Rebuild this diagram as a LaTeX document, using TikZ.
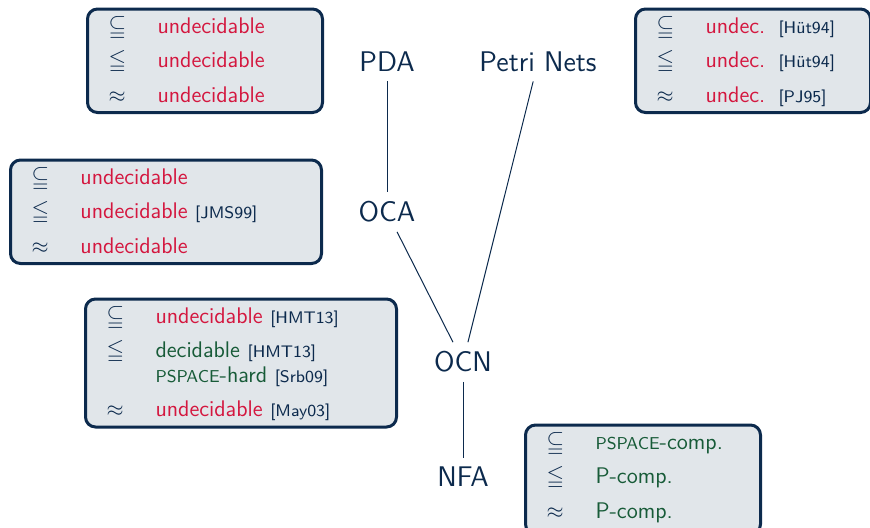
\documentclass[tikz,border=0pt]{standalone}
\usepackage{fontspec}
\usepackage{amssymb}
\usepackage{array}
\definecolor{navy}{HTML}{0C2A4D}
\definecolor{undecred}{HTML}{D4173F}
\definecolor{decgreen}{HTML}{175B38}
\definecolor{boxgray}{HTML}{E1E6EA}
\newcommand{\lit}[1]{{\fontsize{8.4}{10}\selectfont[#1]}}
\newcommand{\undec}[1]{\textcolor{undecred}{#1}}
\newcommand{\dec}[1]{\textcolor{decgreen}{#1}}
\newcommand{\pspace}{{\fontsize{8.6}{10}\selectfont PSPACE}}

\begin{document}
\begin{tikzpicture}[x=0.5pt,y=-0.5pt,
  model/.style={text=navy, inner sep=4.5pt, font=\sffamily\fontsize{14.2}{17}\selectfont},
  infobox/.style={draw=navy, line width=1.5pt, rounded corners=5pt, fill=boxgray,
    anchor=north west, inner xsep=10.5pt, inner ysep=0pt, align=left, text=navy,
    font=\sffamily\fontsize{11.3}{17.25}\selectfont},
  link/.style={draw=navy, line width=0.5pt}]
\useasboundingbox (0,0) rectangle (870,527);
% models
\node[model] (pda) at (387,62) {PDA};
\node[model] (petri) at (538,62) {Petri Nets};
\node[model] (oca) at (387,212) {OCA};
\node[model] (ocn) at (463,362) {OCN};
\node[model] (nfa) at (463,477) {NFA};
\draw[link] (pda) -- (oca);
\draw[link] (petri) -- (ocn);
\draw[link] (oca) -- (ocn);
\draw[link] (ocn) -- (nfa);
% results
\node[infobox, text width=96.5pt] (pdainfo) at (86,7.5) {%
\begin{tabular}{@{}p{24.5pt}@{}l@{}}
$\subseteqq$ & \undec{undecidable}\\
$\leqq$ & \undec{undecidable}\\
$\approx$ & \undec{undecidable}
\end{tabular}};
\node[infobox, text width=96.5pt] (petriinfo) at (634,7.5) {%
\begin{tabular}{@{}p{24.5pt}@{}p{36.5pt}@{}l@{}}
$\subseteqq$ & \undec{undec.} & \lit{Hüt94}\\
$\leqq$ & \undec{undec.} & \lit{Hüt94}\\
$\approx$ & \undec{undec.} & \lit{PJ95}
\end{tabular}};
\node[infobox, text width=134.5pt] (ocainfo) at (9,158.5) {%
\begin{tabular}{@{}p{24.5pt}@{}l@{}}
$\subseteqq$ & \undec{undecidable}\\
$\leqq$ & \undec{undecidable} \lit{JMS99}\\
$\approx$ & \undec{undecidable}
\end{tabular}};
\node[infobox, text width=134.5pt] (ocninfo) at (84,297.5) {%
\begin{tabular}{@{}p{24.5pt}@{}l@{}}
$\subseteqq$ & \undec{undecidable} \lit{HMT13}\\
$\leqq$ & \dec{decidable} \lit{HMT13}\\[-5pt]
 & \dec{\pspace-hard} \lit{Srb09}\\
$\approx$ & \undec{undecidable} \lit{May03}
\end{tabular}};
\node[infobox, text width=96.5pt] (nfainfo) at (524,423.5) {%
\begin{tabular}{@{}p{24.5pt}@{}l@{}}
$\subseteqq$ & \dec{\pspace-comp.}\\
$\leqq$ & \dec{P-comp.}\\
$\approx$ & \dec{P-comp.}\rule[-8pt]{0pt}{8pt}
\end{tabular}};
\end{tikzpicture}
\end{document}
